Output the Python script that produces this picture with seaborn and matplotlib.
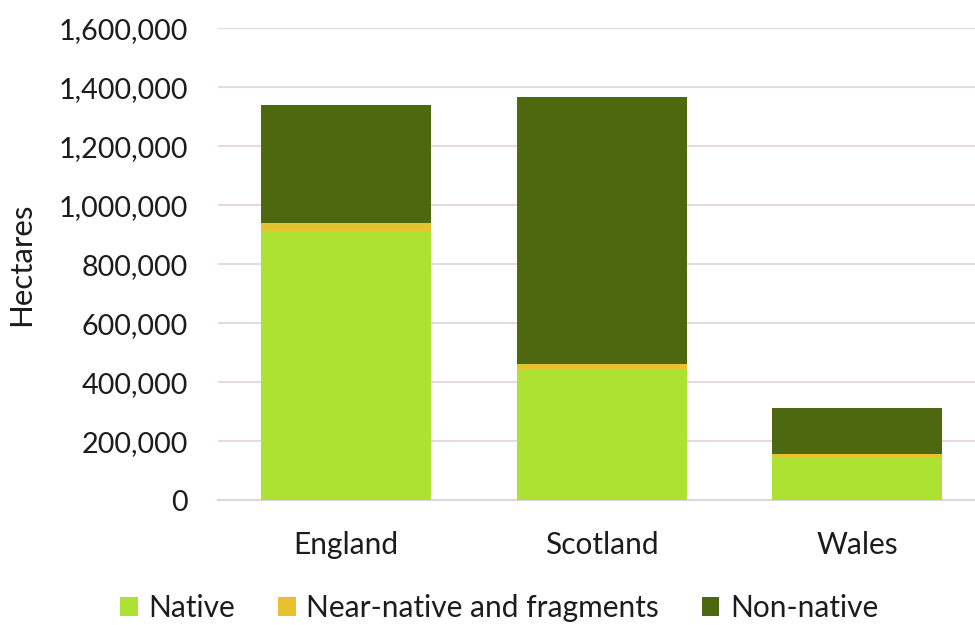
import matplotlib
matplotlib.use("Agg")
import matplotlib.pyplot as plt
import seaborn as sns
import numpy as np
from matplotlib.patches import Patch
from matplotlib.ticker import FuncFormatter

regions = ["England", "Scotland", "Wales"]
native = [913000, 442000, 148000]
near_native = [26000, 21000, 9500]
non_native = [401000, 903000, 154000]
series_names = ["Native", "Near-native and fragments", "Non-native"]
colors = ["#AEE232", "#E8C22E", "#4E6810"]

sns.set_theme(style="white")
plt.rcParams['font.family'] = ['Lato', 'DejaVu Sans']
text_color = "#1c1c1c"

fig = plt.figure(figsize=(9.75, 6.25), dpi=100)
ax = fig.add_axes([0.2241, 0.1995, 0.7759, 0.7552])

native_arr = np.array(native)
near_arr = np.array(near_native)
bottoms = [np.zeros(3), native_arr, native_arr + near_arr]
for vals, bot, col in zip([native, near_native, non_native], bottoms, colors):
    sns.barplot(x=regions, y=vals, bottom=bot, color=col, width=0.665,
                saturation=1, ax=ax, edgecolor="none", linewidth=0, zorder=3)

ax.set_ylim(0, 1600000)
ax.set_yticks(np.arange(0, 1600001, 200000))
ax.yaxis.set_major_formatter(FuncFormatter(lambda v, p: f"{int(v):,}"))
ax.set_xlim(-0.5, 2.46)
ax.grid(axis="y", color="#E6DADE", linewidth=1.5, zorder=0)
ax.grid(axis="x", visible=False)
for s in ["top", "right", "left"]:
    ax.spines[s].set_visible(False)
ax.spines["bottom"].set_color("#E0D6DA")
ax.spines["bottom"].set_linewidth(1.5)
ax.tick_params(axis="y", length=0, pad=22, labelsize=20.7, labelcolor=text_color)
ax.tick_params(axis="x", length=0, pad=22, labelsize=21.5, labelcolor=text_color)
ax.set_xlabel("")
ax.set_ylabel("Hectares", fontsize=22.5, color=text_color)
ax.yaxis.set_label_coords(-0.2426, 0.5)

handles = [Patch(facecolor=c, edgecolor="none") for c in colors]
fig.legend(handles, series_names, loc="center", bbox_to_anchor=(0.512, 0.027),
           ncol=3, frameon=False, fontsize=21.5, handlelength=0.58, handleheight=0.58,
           handletextpad=0.35, columnspacing=1.45, labelcolor=text_color)

fig.savefig("out.png", dpi=100)
